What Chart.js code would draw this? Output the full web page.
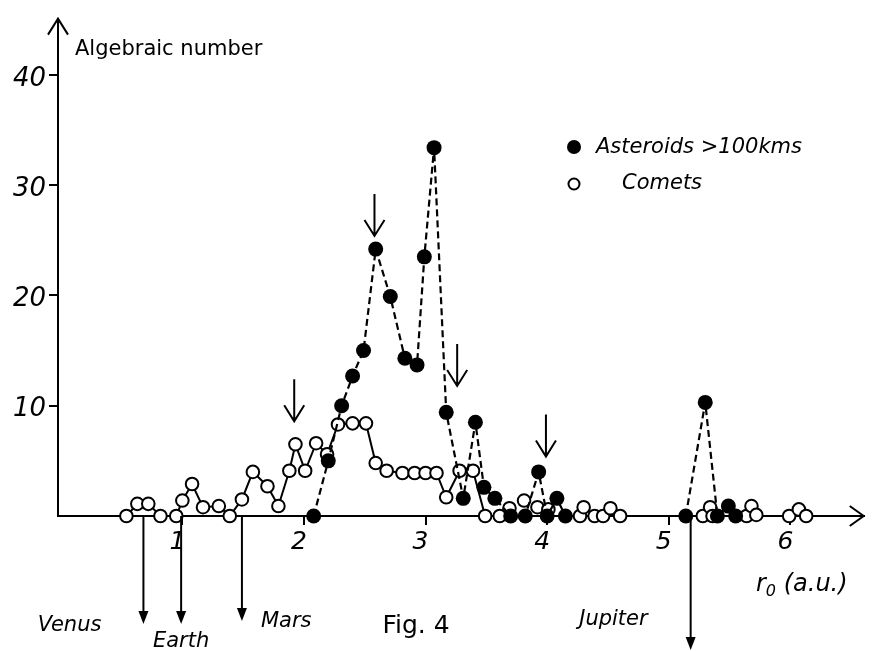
<!DOCTYPE html>
<html>
<head>
<meta charset="utf-8">
<title>Fig. 4</title>
<script src="https://cdn.jsdelivr.net/npm/chart.js@4.4.1/dist/chart.umd.min.js"></script>
<style>
  html, body { margin: 0; padding: 0; background: #fff; }
  #wrap { width: 872px; height: 651px; }
</style>
</head>
<body>
<div id="wrap"><canvas id="figChart" width="872" height="651"></canvas></div>
<script>
/* ===========================
   DATA
============================ */
// Asteroids > 100 km : r0 (a.u.) and algebraic number
const asteroidR = [2.08, 2.20, 2.31, 2.40, 2.49, 2.59, 2.71, 2.83, 2.93, 2.99, 3.07, 3.17, 3.31, 3.41, 3.48,
                   3.57, 3.70, 3.82, 3.93, 4.00, 4.08, 4.15, 5.14, 5.30, 5.40, 5.49, 5.55];
const asteroidN = [0, 5.0, 10.0, 12.7, 15.0, 24.2, 19.9, 14.3, 13.7, 23.5, 33.4, 9.4, 1.6, 8.5, 2.6,
                   1.6, 0, 0, 4.0, 0, 1.6, 0, 0, 10.3, 0, 0.9, 0];

// Comets : r0 (a.u.) and algebraic number
const cometR = [0.54, 0.63, 0.72, 0.82, 0.95, 1.00, 1.08, 1.17, 1.30, 1.39, 1.49, 1.58, 1.70, 1.79, 1.88,
                1.93, 2.01, 2.10, 2.19, 2.28, 2.40, 2.51, 2.59, 2.68, 2.81, 2.91, 3.00, 3.09, 3.17, 3.28,
                3.39, 3.49, 3.61, 3.69, 3.81, 3.92, 4.01, 4.27, 4.30, 4.39, 4.46, 4.52, 4.60, 5.28, 5.34,
                5.36, 5.64, 5.68, 5.72, 5.99, 6.07, 6.13];
const cometN = [0, 1.1, 1.1, 0, 0, 1.4, 2.9, 0.8, 0.9, 0, 1.5, 4.0, 2.7, 0.9, 4.1,
                6.5, 4.1, 6.6, 5.6, 8.3, 8.4, 8.4, 4.8, 4.1, 3.9, 3.9, 3.9, 3.9, 1.7, 4.1,
                4.1, 0, 0, 0.7, 1.4, 0.8, 0.6, 0, 0.8, 0, 0, 0.7, 0, 0, 0.8,
                0, 0, 0.9, 0.1, 0, 0.6, 0];

// tick labels
const xTicks = [1, 2, 3, 4, 5, 6];
const yTicks = [10, 20, 30, 40];

// resonance arrows above the peaks (r0) and the planets below the axis
const peakArrowR = [1.92, 2.58, 3.26, 3.99];
const peakArrowN = [12.4, 29.2, 15.6, 9.2];
const planetNames = ['Venus', 'Earth', 'Mars', 'Jupiter'];
const planetR = [0.68, 0.99, 1.49, 5.18];

const FONT = '"DejaVu Sans", Verdana, sans-serif';

/* ===========================
   EXTRA DRAWING (arrows, labels, legend)
============================ */
const figureDecor = {
    id: 'figureDecor',
    afterDraw(chart) {
        const { ctx, chartArea: a, scales: { x, y } } = chart;
        const y0 = y.getPixelForValue(0);
        ctx.save();
        ctx.strokeStyle = '#000';
        ctx.fillStyle = '#000';

        // open arrowheads at the ends of both axes
        ctx.lineWidth = 2;
        ctx.beginPath();
        ctx.moveTo(a.left - 10, a.top + 16); ctx.lineTo(a.left, a.top); ctx.lineTo(a.left + 10, a.top + 16);
        ctx.moveTo(a.right - 14, y0 - 10); ctx.lineTo(a.right, y0); ctx.lineTo(a.right - 14, y0 + 10);
        ctx.stroke();

        // down arrows over the peaks
        ctx.lineWidth = 2;
        peakArrowR.forEach((r, i) => {
            const px = x.getPixelForValue(r);
            const top = y.getPixelForValue(peakArrowN[i]);
            const tip = top + 42;
            ctx.beginPath();
            ctx.moveTo(px, top); ctx.lineTo(px, tip);
            ctx.moveTo(px - 10, tip - 16); ctx.lineTo(px, tip); ctx.lineTo(px + 10, tip - 16);
            ctx.stroke();
        });

        // planet arrows under the axis
        const planetDrop = [108, 108, 105, 134];
        ctx.lineWidth = 2;
        planetR.forEach((r, i) => {
            const px = x.getPixelForValue(r);
            const tip = y0 + planetDrop[i];
            ctx.beginPath();
            ctx.moveTo(px, y0); ctx.lineTo(px, tip - 8);
            ctx.stroke();
            ctx.beginPath();
            ctx.moveTo(px - 5, tip - 13); ctx.lineTo(px + 5, tip - 13); ctx.lineTo(px, tip);
            ctx.closePath();
            ctx.fill();
        });

        // planet names
        ctx.font = 'italic 21px ' + FONT;
        ctx.textBaseline = 'middle';
        const pv = planetR.map(r => x.getPixelForValue(r));
        ctx.textAlign = 'right';  ctx.fillText(planetNames[0], pv[0] - 42, y0 + 110);
        ctx.textAlign = 'center'; ctx.fillText(planetNames[1], pv[1], y0 + 126);
        ctx.textAlign = 'left';   ctx.fillText(planetNames[2], pv[2] + 19, y0 + 106);
        ctx.textAlign = 'right';  ctx.fillText(planetNames[3], pv[3] - 43, y0 + 104);

        // Fig. 4
        ctx.font = '25px ' + FONT;
        ctx.textAlign = 'center';
        ctx.fillText('Fig. 4', 416, y0 + 110);

        // y axis title
        ctx.font = '21px ' + FONT;
        ctx.textAlign = 'left';
        ctx.fillText('Algebraic number', a.left + 17, 50);

        // x axis title r0 (a.u.)
        ctx.font = 'italic 24px ' + FONT;
        ctx.textAlign = 'left';
        let tx = 756;
        ctx.fillText('r', tx, 585);
        tx += ctx.measureText('r').width;
        ctx.font = 'italic 16px ' + FONT;
        ctx.fillText('0', tx, 592);
        tx += ctx.measureText('0').width;
        ctx.font = 'italic 24px ' + FONT;
        ctx.fillText(' (a.u.)', tx, 585);

        // legend
        ctx.beginPath();
        ctx.arc(574, 147, 7, 0, Math.PI * 2);
        ctx.fill();
        ctx.beginPath();
        ctx.arc(574, 184, 5.5, 0, Math.PI * 2);
        ctx.lineWidth = 2;
        ctx.stroke();
        ctx.font = 'italic 21px ' + FONT;
        ctx.fillText('Asteroids >100kms', 596, 148);
        ctx.fillText('Comets', 622, 184);

        ctx.restore();
    }
};

/* ===========================
   CHART
============================ */
const ctx = document.getElementById('figChart').getContext('2d');
const figChart = new Chart(ctx, {
    type: 'scatter',
    data: {
        datasets: [{
            label: 'Asteroids >100kms',
            data: asteroidR.map((r, i) => ({ x: r, y: asteroidN[i] })),
            showLine: true,
            borderColor: '#000',
            borderWidth: 2.2,
            borderDash: [7, 4],
            pointRadius: 7.5,
            pointBackgroundColor: '#000',
            pointBorderWidth: 0,
            clip: false,
            segment: {
                // no line across the empty stretch between 4 and 5 a.u.
                borderColor: c => (c.p1.parsed.x - c.p0.parsed.x > 0.5 ? 'rgba(0,0,0,0)' : '#000')
            }
        }, {
            label: 'Comets',
            data: cometR.map((r, i) => ({ x: r, y: cometN[i] })),
            showLine: true,
            borderColor: '#000',
            borderWidth: 2,
            pointRadius: 6.3,
            pointBackgroundColor: '#fff',
            pointBorderColor: '#000',
            pointBorderWidth: 2,
            clip: false,
            segment: {
                // the comet curve is only joined up to ~3.5 a.u.
                borderColor: c => (c.p0.parsed.x >= 3.49 ? 'rgba(0,0,0,0)' : '#000')
            }
        }]
    },
    options: {
        responsive: false,
        animation: false,
        devicePixelRatio: 1,
        layout: { padding: { top: 13, right: 4, left: 0, bottom: 0 } },
        plugins: {
            legend: { display: false },
            tooltip: { enabled: false }
        },
        scales: {
            x: {
                type: 'linear',
                min: -0.0225,
                max: 6.603,
                afterFit: s => { s.height = 135; },
                afterBuildTicks: s => { s.ticks = xTicks.map(v => ({ value: v })); },
                border: { display: true, color: '#000', width: 2 },
                grid: { drawOnChartArea: false, drawTicks: true, tickLength: 9, color: '#000', lineWidth: 2 },
                ticks: {
                    color: '#000',
                    padding: 2,
                    labelOffset: -5,
                    font: { family: FONT, size: 25, style: 'italic' }
                }
            },
            y: {
                type: 'linear',
                min: 0,
                max: 45.1,
                afterFit: s => { s.width = 58; },
                afterBuildTicks: s => { s.ticks = yTicks.map(v => ({ value: v })); },
                border: { display: true, color: '#000', width: 2 },
                grid: { drawOnChartArea: false, drawTicks: true, tickLength: 9, color: '#000', lineWidth: 2 },
                ticks: {
                    color: '#000',
                    padding: 3,
                    labelOffset: 4,
                    font: { family: FONT, size: 26, style: 'italic' }
                }
            }
        }
    },
    plugins: [figureDecor]
});
</script>
</body>
</html>
